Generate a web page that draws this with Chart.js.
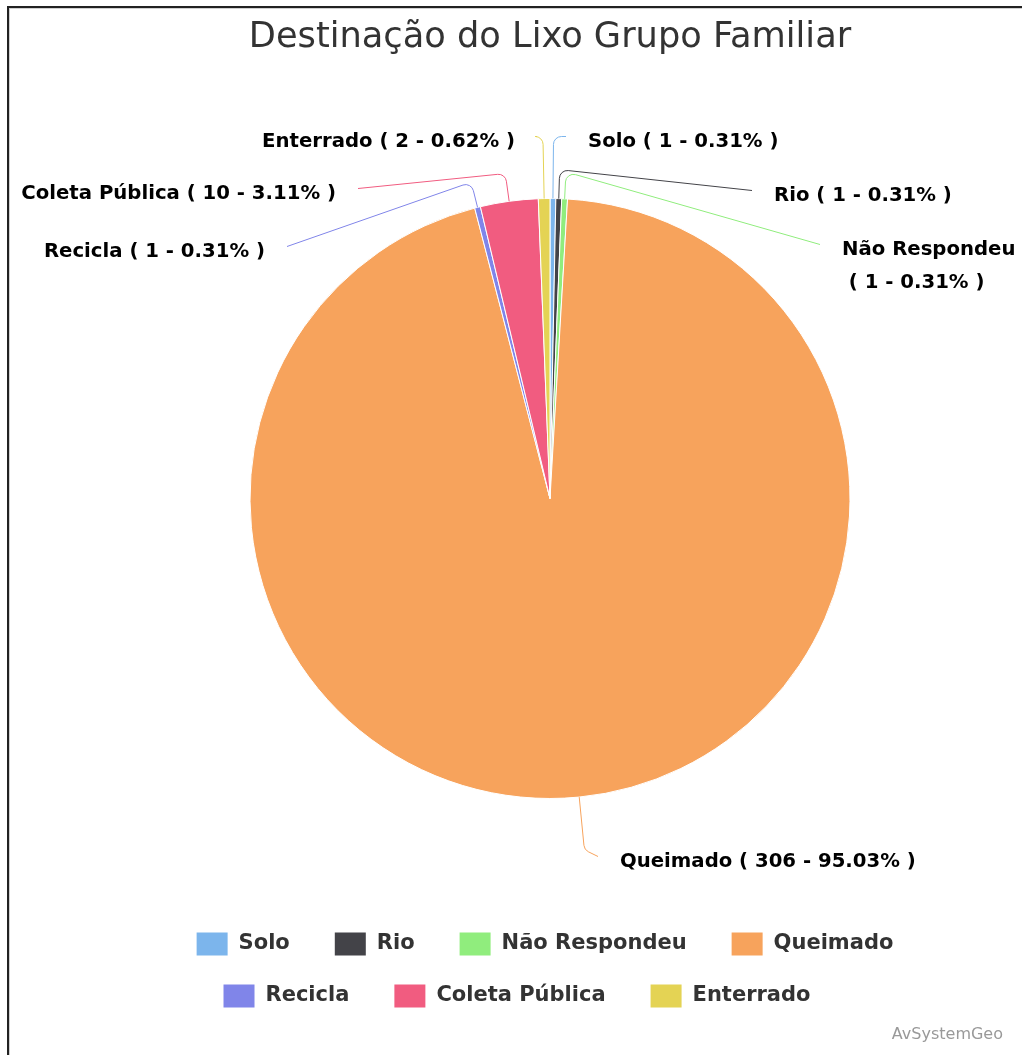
<!DOCTYPE html>
<html lang="pt-BR">
<head>
    <meta charset="UTF-8">
    <title>Destinação do Lixo Grupo Familiar</title>
    <script src="https://cdn.jsdelivr.net/npm/chart.js"></script>
    <style>
        body {
            margin: 0;
            background-color: #fff;
            font-family: "DejaVu Sans", sans-serif;
        }

        #wrap {
            position: relative;
            width: 1022px;
            height: 1055px;
            overflow: hidden;
        }

        /* the frame of the original export only shows on top and left */
        #frame {
            position: absolute;
            left: 7px;
            top: 6px;
            width: 1100px;
            height: 1100px;
            border-top: 2px solid #222;
            border-left: 2px solid #222;
            box-shadow: inset 1px 1px 0 #d0d0d0;
            pointer-events: none;
        }

        canvas {
            position: absolute;
            left: 0;
            top: 0;
        }
    </style>
</head>
<body>
    <div id="wrap">
        <canvas id="lixoChart"></canvas>
        <div id="frame"></div>
    </div>

    <script>
        const categories = ['Solo', 'Rio', 'Não Respondeu', 'Queimado', 'Recicla', 'Coleta Pública', 'Enterrado'];
        const counts = [1, 1, 1, 306, 1, 10, 2];
        const colors = ['#7cb5ec', '#434348', '#90ed7d', '#f7a35c', '#8085e9', '#f15c80', '#e4d354'];

        // where the outside labels sit, relative to the pie centre
        // brk = how far past the edge the connector bends, side = 1 right / -1 left
        const labelSpots = [
            { brk: 62, dx: 16, dy: -362, side: 1 },
            { brk: 29, dx: 202, dy: -308, side: 1 },
            { brk: 27, dx: 270, dy: -254, side: 1 },
            { brk: 53, dx: 48, dy: 358, side: 1 },
            { brk: 26, dx: -263, dy: -252, side: -1 },
            { brk: 28, dx: -192, dy: -310, side: -1 },
            { brk: 62, dx: -13, dy: -362, side: -1 }
        ];

        // legend look: rows wrap at maxRow px, each row centred on its own x
        const legendStyle = {
            font: 'bold 21px "DejaVu Sans"',
            box: [31, 23],
            textGap: 11,
            itemGap: 45,
            maxRow: 760,
            rowCenters: [545, 517],
            firstRowY: 944,
            rowStep: 52
        };

        const total = counts.reduce((a, b) => a + b, 0);

        const pieLabels = {
            id: 'pieLabels',
            afterDatasetsDraw(chart) {
                const ctx = chart.ctx;
                const meta = chart.getDatasetMeta(0);
                ctx.save();
                ctx.font = 'bold 19.7px "DejaVu Sans"';
                ctx.textBaseline = 'middle';
                ctx.lineWidth = 1;

                meta.data.forEach((arc, i) => {
                    const p = arc.getProps(['x', 'y', 'startAngle', 'endAngle', 'outerRadius'], true);
                    const mid = (p.startAngle + p.endAngle) / 2;
                    const spot = labelSpots[i];

                    const ex = p.x + Math.cos(mid) * p.outerRadius;
                    const ey = p.y + Math.sin(mid) * p.outerRadius;
                    const bx = p.x + Math.cos(mid) * (p.outerRadius + spot.brk);
                    const by = p.y + Math.sin(mid) * (p.outerRadius + spot.brk);
                    const lx = p.x + spot.dx;
                    const ly = p.y + spot.dy;

                    ctx.strokeStyle = colors[i];
                    ctx.beginPath();
                    ctx.moveTo(ex, ey);
                    ctx.arcTo(bx, by, lx, ly, 8);
                    ctx.lineTo(lx, ly);
                    ctx.stroke();

                    const pct = (counts[i] / total * 100).toFixed(2);
                    const text = categories[i] + ' ( ' + counts[i] + ' - ' + pct + '% )';
                    const tx = lx + spot.side * 22;
                    ctx.textAlign = spot.side > 0 ? 'left' : 'right';
                    ctx.fillStyle = '#000';

                    if (spot.side > 0 && tx + ctx.measureText(text).width > chart.width - 4) {
                        // too long for the right side, break it in two lines
                        ctx.fillText(categories[i], tx, ly + 5);
                        ctx.fillText(' ( ' + counts[i] + ' - ' + pct + '% )', tx, ly + 38);
                    } else {
                        ctx.fillText(text, tx, ly + 5);
                    }
                });
                ctx.restore();
            },
            afterDraw(chart) {
                const ctx = chart.ctx;
                const ls = legendStyle;
                ctx.save();

                // legend, built from the same arrays as the pie
                ctx.font = ls.font;
                ctx.textBaseline = 'middle';
                ctx.textAlign = 'left';
                const rows = [[]];
                let rowWidth = 0;
                categories.forEach((name, i) => {
                    const w = ls.box[0] + ls.textGap + ctx.measureText(name).width;
                    const add = rowWidth === 0 ? w : rowWidth + ls.itemGap + w;
                    if (rowWidth > 0 && add > ls.maxRow) {
                        rows.push([]);
                        rowWidth = w;
                    } else {
                        rowWidth = add;
                    }
                    rows[rows.length - 1].push({ i, w });
                });

                rows.forEach((row, r) => {
                    const width = row.reduce((s, it) => s + it.w, 0) + ls.itemGap * (row.length - 1);
                    let x = ls.rowCenters[Math.min(r, ls.rowCenters.length - 1)] - width / 2;
                    const y = ls.firstRowY + r * ls.rowStep;
                    row.forEach(it => {
                        ctx.fillStyle = colors[it.i];
                        ctx.fillRect(x, y - ls.box[1] / 2, ls.box[0], ls.box[1]);
                        ctx.fillStyle = '#333';
                        ctx.fillText(categories[it.i], x + ls.box[0] + ls.textGap, y);
                        x += it.w + ls.itemGap;
                    });
                });

                // credits
                ctx.font = '16px "DejaVu Sans"';
                ctx.fillStyle = '#999';
                ctx.textAlign = 'right';
                ctx.fillText('AvSystemGeo', chart.width - 19, chart.height - 20);
                ctx.restore();
            }
        };

        const chart = new Chart(document.getElementById('lixoChart'), {
            type: 'pie',
            data: {
                labels: categories,
                datasets: [{
                    data: counts,
                    backgroundColor: colors,
                    borderColor: '#fff',
                    borderWidth: 1,
                    radius: 300
                }]
            },
            options: {
                responsive: true,
                maintainAspectRatio: false,
                animation: false,
                events: [],
                layout: {
                    padding: { left: 150, right: 72, top: 0, bottom: 152 }
                },
                plugins: {
                    title: {
                        display: true,
                        text: 'Destinação do Lixo Grupo Familiar',
                        color: '#333',
                        font: { family: '"DejaVu Sans"', size: 35.2, weight: 'normal' },
                        padding: { top: 16.9, bottom: 34.86 }
                    },
                    legend: { display: false },
                    tooltip: { enabled: false }
                }
            },
            plugins: [pieLabels]
        });
    </script>
</body>
</html>
